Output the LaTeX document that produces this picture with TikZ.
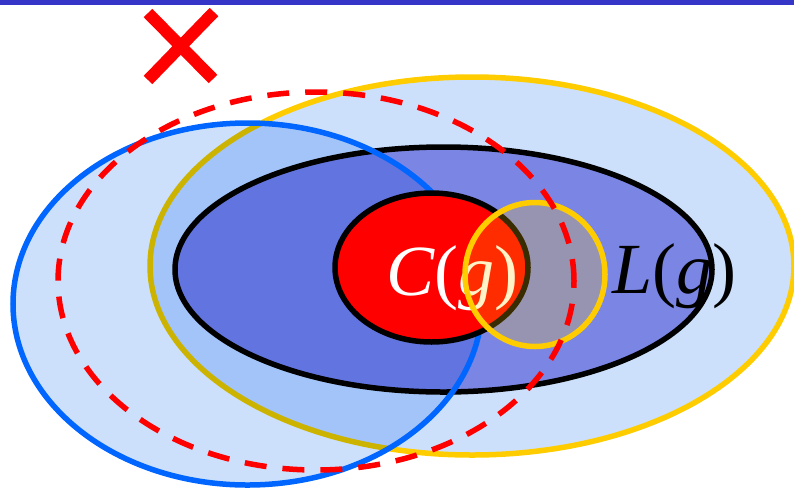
\documentclass[tikz,border=0pt]{standalone}
\usepackage{fontspec}
\setmainfont{Liberation Serif}
\definecolor{yel}{RGB}{255,204,0}
\definecolor{lblue}{RGB}{204,224,252}
\definecolor{midblue}{RGB}{123,133,227}
\definecolor{bblue}{RGB}{0,102,255}
\definecolor{topblue}{RGB}{53,53,200}
\begin{document}
\begin{tikzpicture}[x=1pt,y=-1pt,
  ring/.style={line width=5.5pt},
  bigtext/.style={font=\fontsize{72}{72}\selectfont, inner sep=0pt, anchor=base}]
\useasboundingbox (0,0) rectangle (794,488);
\fill[topblue] (0,0) rectangle (794,4.5);
% big yellow ellipse
\filldraw[ring, fill=lblue, draw=yel] (472,266) ellipse [x radius=322pt, y radius=189pt];
% black ellipse L(g)
\filldraw[ring, fill=midblue, draw=black] (443.5,269.5) ellipse [x radius=268.5pt, y radius=122.5pt];
% blue ellipse
\begin{scope}[blend mode=multiply]
\fill[lblue] (247.5,304) ellipse [x radius=234.5pt, y radius=181pt];
\end{scope}
\draw[ring, bblue] (247.5,304) ellipse [x radius=234.5pt, y radius=181pt];
% red ellipse C(g)
\filldraw[ring, fill=red, draw=black] (431.5,267.5) ellipse [x radius=96.5pt, y radius=74.5pt];
\node[bigtext, text=white] (cg) at (452.5,295) {\textit{C}(\textit{g})};
% small yellow circle
\filldraw[ring, fill=yel, fill opacity=0.22, draw=yel] (535,274.5) ellipse [x radius=70pt, y radius=72pt];
% dashed red ellipse
\draw[ring, red, dash pattern=on 22pt off 16pt] (316,281) ellipse [x radius=258pt, y radius=189pt];
\node[bigtext, text=black] (lg) at (674.5,293) {\textit{L}(\textit{g})};
% red cross
\coordinate (x1) at (148,13);
\coordinate (x2) at (213,79);
\coordinate (x3) at (148,80);
\coordinate (x4) at (214,12);
\draw[red, line width=12pt] (x1) -- (x2) (x3) -- (x4);
\end{tikzpicture}
\end{document}
